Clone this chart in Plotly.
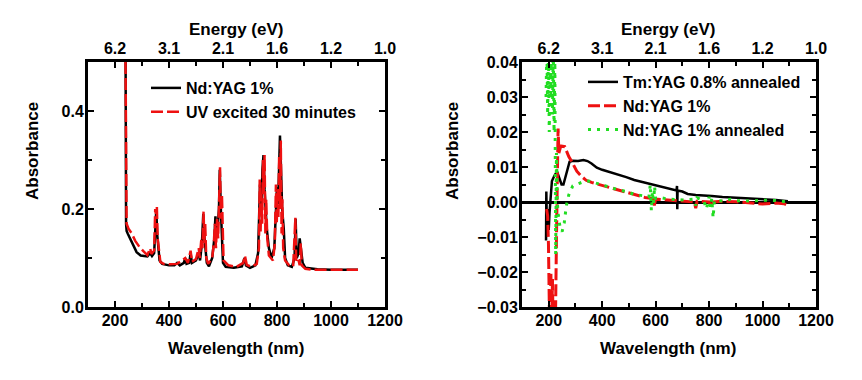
import plotly.graph_objects as go
from plotly.subplots import make_subplots

# ---- left panel: Nd:YAG 1% vs UV excited ----
wl_nd = [238, 239, 241, 243, 247, 255, 265, 280, 295, 310, 320, 330, 337, 345, 350, 353, 356,
         360, 365, 375, 400, 420, 430, 440, 455, 460, 465, 475, 480, 485, 500, 510, 515, 522,
         527, 530, 535, 540, 548, 560, 568, 572, 576, 580, 585, 588, 592, 596, 600, 610, 640,
         670, 680, 685, 700, 720, 730, 737, 742, 746, 750, 754, 758, 762, 770, 780, 790, 795,
         800, 804, 808, 811, 815, 819, 825, 830, 840, 855, 865, 869, 873, 880, 884, 888, 895,
         905, 950, 1000, 1050, 1100]
abs_nd = [0.60, 0.55, 0.17, 0.155, 0.150, 0.140, 0.128, 0.112, 0.105, 0.104, 0.103, 0.110,
          0.104, 0.110, 0.190, 0.200, 0.150, 0.120, 0.095, 0.088, 0.085, 0.085, 0.090, 0.085,
          0.090, 0.100, 0.088, 0.090, 0.110, 0.090, 0.095, 0.110, 0.095, 0.130, 0.190, 0.150,
          0.120, 0.090, 0.083, 0.100, 0.140, 0.185, 0.150, 0.160, 0.200, 0.280, 0.200, 0.120,
          0.090, 0.082, 0.080, 0.083, 0.100, 0.085, 0.080, 0.085, 0.110, 0.250, 0.200, 0.280,
          0.310, 0.240, 0.200, 0.160, 0.120, 0.100, 0.120, 0.200, 0.245, 0.210, 0.300, 0.350,
          0.280, 0.200, 0.160, 0.100, 0.085, 0.082, 0.100, 0.180, 0.100, 0.110, 0.140, 0.120,
          0.090, 0.080, 0.077, 0.076, 0.076, 0.076]

wl_uv = [239, 240, 243, 250, 262, 275, 290, 305, 320, 330, 335, 345, 349, 352, 355, 358, 362,
         368, 380, 400, 430, 440, 460, 470, 480, 485, 500, 510, 514, 520, 524, 528, 531, 534,
         538, 545, 560, 566, 570, 574, 578, 582, 586, 589, 592, 596, 602, 620, 650, 675, 681,
         688, 705, 725, 733, 736, 739, 742, 745, 748, 751, 754, 757, 760, 764, 770, 785, 792,
         796, 799, 802, 805, 808, 811, 814, 817, 820, 823, 830, 845, 860, 868, 871, 878, 884,
         888, 892, 905, 930, 980, 1040, 1100]
abs_uv = [0.50, 0.45, 0.170, 0.160, 0.150, 0.135, 0.123, 0.114, 0.106, 0.120, 0.108, 0.115,
          0.200, 0.190, 0.205, 0.140, 0.115, 0.092, 0.088, 0.087, 0.088, 0.092, 0.100, 0.090,
          0.115, 0.092, 0.098, 0.120, 0.100, 0.140, 0.120, 0.195, 0.130, 0.170, 0.100, 0.088,
          0.100, 0.130, 0.170, 0.120, 0.180, 0.140, 0.240, 0.285, 0.180, 0.230, 0.095, 0.085,
          0.082, 0.090, 0.105, 0.086, 0.082, 0.088, 0.120, 0.260, 0.150, 0.230, 0.170, 0.300,
          0.230, 0.310, 0.150, 0.220, 0.140, 0.105, 0.095, 0.130, 0.250, 0.170, 0.240, 0.180,
          0.310, 0.200, 0.340, 0.150, 0.220, 0.120, 0.095, 0.085, 0.083, 0.182, 0.095, 0.100,
          0.085, 0.130, 0.085, 0.078, 0.076, 0.076, 0.076, 0.076]

# ---- right panel: difference spectra ----
wl_tm = [190, 191, 193, 196, 200, 203, 207, 212, 218, 225, 232, 240, 248, 255, 265, 278, 290,
         310, 330, 345, 360, 380, 400, 430, 460, 490, 520, 550, 580, 610, 640, 670, 678, 680,
         681, 682, 700, 720, 750, 780, 810, 850, 900, 950, 1000, 1050, 1095]
abs_tm = [-0.011, 0.003, -0.006, -0.002, -0.008, -0.003, 0.002, 0.006, 0.007, 0.008, 0.0085,
          0.007, 0.005, 0.005, 0.008, 0.0115, 0.0118, 0.0117, 0.012, 0.0117, 0.011, 0.0098,
          0.0092, 0.0085, 0.008, 0.0071, 0.0063, 0.0057, 0.0052, 0.0047, 0.004, 0.0035, 0.0033,
          0.0046, -0.0021, 0.0033, 0.003, 0.0023, 0.002, 0.0019, 0.0017, 0.0014, 0.0012, 0.0009,
          0.0007, 0.0006, 0.0002]

wl_nd1 = [192, 196, 199, 202, 205, 208, 211, 214, 217, 221, 225, 229, 232, 235, 238, 245, 260,
          275, 290, 305, 320, 340, 360, 400, 440, 480, 520, 560, 590, 595, 600, 640, 680, 720,
          745, 750, 755, 800, 808, 815, 850, 900, 950, 1000, 1050, 1080, 1095]
abs_nd1 = [-0.002, -0.004, -0.012, -0.03, -0.045, -0.02, -0.035, -0.022, -0.04, -0.03, -0.035,
           -0.01, 0.005, 0.021, 0.014, 0.016, 0.0158, 0.013, 0.011, 0.0088, 0.0075, 0.0062,
           0.0056, 0.0047, 0.0038, 0.003, 0.0022, 0.0013, 0.001, -0.001, 0.0008, 0.0006, 0.0003,
           0.0003, 0.0, -0.0018, 0.0002, 0.0, -0.0015, 0.0, 0.0002, 0.0001, -0.0002, -0.0006,
           -0.0003, -0.0005, -0.001]

wl_nd1a = [190, 193, 196, 199, 202, 205, 208, 211, 214, 217, 220, 223, 226, 229, 232, 236, 242,
           250, 258, 266, 275, 290, 310, 330, 350, 370, 400, 430, 460, 490, 520, 550, 575, 580,
           584, 588, 592, 596, 600, 620, 650, 700, 740, 750, 755, 780, 790, 800, 805, 810, 815,
           820, 850, 880, 900, 950, 1000, 1050, 1095]
abs_nd1a = [0.03, 0.045, 0.025, 0.045, 0.02, 0.045, 0.03, 0.045, 0.025, 0.045, 0.02, 0.04,
            -0.015, 0.014, 0.0, -0.004, -0.007, -0.0085, -0.006, -0.001, 0.002, 0.0046, 0.0052,
            0.0058, 0.006, 0.0055, 0.0048, 0.0042, 0.0035, 0.003, 0.0022, 0.0018, 0.0015, 0.005,
            -0.0025, 0.003, -0.0005, 0.0045, 0.001, 0.0012, 0.0008, 0.0006, 0.0008, -0.001,
            0.0012, 0.0004, -0.002, 0.0015, -0.0015, 0.001, -0.0045, 0.0005, 0.0003, 0.0008,
            0.0004, 0.0003, 0.0005, 0.0004, 0.0]

wl_ticks = [200, 400, 600, 800, 1000, 1200]
ev_labels = ['6.2', '3.1', '2.1', '1.6', '1.2', '1.0']

W, H = 862, 380
OFF = 8  # page body margin shifts the figure by 8px


def px(x):
    return (x - OFF) / W


def py(y):
    return 1 - (y - OFF) / H


FONT = 'Liberation Sans, Arial, sans-serif'
bold = dict(family=FONT, size=16, color='black', weight='bold')

fig = make_subplots(rows=1, cols=2)

fig.add_trace(go.Scatter(x=wl_nd, y=abs_nd, name='Nd:YAG 1%', mode='lines',
              line=dict(color='black', width=2.5), legend='legend'), row=1, col=1)
fig.add_trace(go.Scatter(x=wl_uv, y=abs_uv, name='UV excited 30 minutes', mode='lines',
              line=dict(color='#ee1111', width=2.5, dash='12px,4px'), legend='legend'),
              row=1, col=1)

fig.add_trace(go.Scatter(x=wl_tm, y=abs_tm, name='Tm:YAG 0.8% annealed', mode='lines',
              line=dict(color='black', width=2.5), legend='legend2'), row=1, col=2)
fig.add_trace(go.Scatter(x=wl_nd1, y=abs_nd1, name='Nd:YAG 1%', mode='lines',
              line=dict(color='#ee1111', width=3, dash='12px,4px'), legend='legend2'),
              row=1, col=2)
fig.add_trace(go.Scatter(x=wl_nd1a, y=abs_nd1a, name='Nd:YAG 1% annealed', mode='lines',
              line=dict(color='#22dd22', width=3, dash='3px,6px'), legend='legend2'),
              row=1, col=2)

# empty traces so the top energy axes get drawn
for xa, ya in (('x3', 'y'), ('x4', 'y2')):
    fig.add_trace(go.Scatter(x=wl_ticks, y=[None] * len(wl_ticks), xaxis=xa, yaxis=ya,
                             mode='lines', showlegend=False, hoverinfo='skip'))

common = dict(showline=True, linecolor='black', linewidth=3, ticks='inside', ticklen=6,
              tickwidth=2, tickcolor='black', showgrid=False, zeroline=False, tickfont=bold,
              automargin=False)
minor_x = dict(dtick=100, ticks='inside', ticklen=4, tickwidth=2, tickcolor='black')

dom_l = [px(88), px(385)]
dom_r = [px(522), px(816)]
dom_y = [py(307), py(62)]

fig.update_layout(
    xaxis=dict(common, domain=dom_l, range=[100, 1200], dtick=200, minor=minor_x, mirror=True,
               ticklabelstandoff=-3),
    yaxis=dict(common, domain=dom_y, range=[0, 0.5], dtick=0.2, tickformat='.1f',
               minor=dict(dtick=0.1, ticks='inside', ticklen=4, tickwidth=2, tickcolor='black'),
               mirror='ticks', ticklabelstandoff=-2),
    xaxis2=dict(common, domain=dom_r, range=[100, 1200], dtick=200, minor=minor_x, mirror=True,
                ticklabelstandoff=-3),
    yaxis2=dict(common, domain=dom_y, range=[-0.03, 0.04], dtick=0.01, tickformat='.2f',
                minor=dict(dtick=0.005, ticks='inside', ticklen=4, tickwidth=2, tickcolor='black'),
                mirror='ticks', zeroline=True, zerolinecolor='black', zerolinewidth=3,
                ticklabelstandoff=-2),
    xaxis3=dict(common, overlaying='x', anchor='y', side='top', range=[100, 1200],
                tickmode='array', tickvals=wl_ticks, ticktext=ev_labels, minor=minor_x,
                ticklabelstandoff=-1),
    xaxis4=dict(common, overlaying='x2', anchor='y2', side='top', range=[100, 1200],
                tickmode='array', tickvals=wl_ticks, ticktext=ev_labels, minor=minor_x,
                ticklabelstandoff=-1),
    legend=dict(x=px(146), y=py(71), xanchor='left', yanchor='top', font=bold,
                bgcolor='rgba(0,0,0,0)', itemwidth=30),
    legend2=dict(x=px(583), y=py(65), xanchor='left', yanchor='top', font=bold,
                 bgcolor='rgba(0,0,0,0)', itemwidth=30),
    showlegend=True,
    autosize=False,
    width=W, height=H,
    margin=dict(l=0, r=0, t=0, b=0, autoexpand=False),
    plot_bgcolor='white', paper_bgcolor='white',
    font=bold,
)

title_font = dict(family=FONT, size=17, color='black', weight='bold')
for cx in (236, 668):
    fig.add_annotation(text='Wavelength (nm)', x=px(cx), y=py(348), xref='paper',
                       yref='paper', xanchor='center', yanchor='middle', showarrow=False,
                       font=title_font)
    fig.add_annotation(text='Energy (eV)', x=px(cx), y=py(30), xref='paper',
                       yref='paper', xanchor='center', yanchor='middle', showarrow=False,
                       font=title_font)
for cx in (33, 453):
    fig.add_annotation(text='Absorbance', x=px(cx), y=py(151), xref='paper',
                       yref='paper', xanchor='center', yanchor='middle', showarrow=False,
                       textangle=-90, font=title_font)

fig.write_html("out.html")
